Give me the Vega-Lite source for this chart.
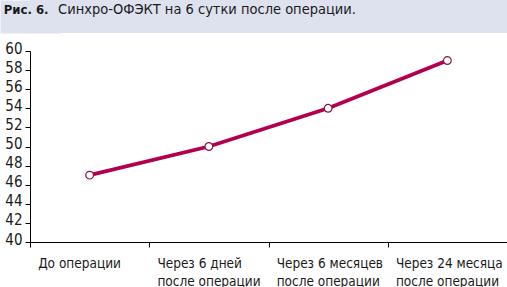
{
  "$schema": "https://vega.github.io/schema/vega-lite/v6.json",
  "padding": 0,
  "background": "white",
  "spacing": 8,
  "config": {
    "view": {"stroke": null},
    "font": "Liberation Sans Narrow, DejaVu Sans Condensed, sans-serif"
  },
  "datasets": {
    "series": [
      {"stage": "До операции", "value": 47},
      {"stage": "Через 6 дней|после операции", "value": 50},
      {"stage": "Через 6 месяцев|после  операции", "value": 54},
      {"stage": "Через 24 месяца|после операции", "value": 59}
    ]
  },
  "vconcat": [
    {
      "spacing": 0,
      "bounds": "flush",
      "hconcat": [
        {
          "width": 354,
          "height": 33,
          "view": {"fill": "#dde2ee", "stroke": null},
          "data": {"values": [{"fig": "Рис. 6.", "caption": "Синхро-ОФЭКТ на 6 сутки после операции."}]},
          "mark": {"type": "text", "baseline": "bottom", "fontSize": 14.5, "color": "#1a1a1a", "font": "Liberation Sans Narrow, DejaVu Sans Condensed, sans-serif"},
          "encoding": {
            "text": {"field": "caption"},
            "y": {
              "field": "fig",
              "type": "nominal",
              "axis": {
                "title": "Рис. 6.",
                "titleAngle": 0,
                "titleX": 18,
                "titleY": 16.5,
                "titleAlign": "right",
                "titleBaseline": "bottom",
                "titleFontWeight": "bold",
                "titleFontSize": 13,
                "titleColor": "#1a1a1a",
                "titleFont": "Liberation Sans Narrow, DejaVu Sans Condensed, sans-serif",
                "labels": false,
                "ticks": false,
                "domain": true,
                "domainWidth": 60,
                "domainColor": "#dde2ee",
                "domainCap": "butt",
                "minExtent": 30,
                "maxExtent": 30
              }
            }
          }
        },
        {
          "width": 123,
          "height": 33,
          "view": {"fill": "#dde2ee", "stroke": null},
          "data": {"values": [{"t": ""}]},
          "mark": {"type": "text"},
          "encoding": {"text": {"field": "t"}}
        }
      ]
    },
    {
      "width": 477,
      "height": 191,
      "data": {"name": "series"},
      "encoding": {
        "x": {
          "field": "stage",
          "type": "nominal",
          "sort": null,
          "scale": {"type": "band", "paddingInner": 0, "paddingOuter": 0},
          "axis": {
            "title": null,
            "labelAngle": 0,
            "tickBand": "extent",
            "labelAlign": "left",
            "labelOffset": -52,
            "labelBaseline": "top",
            "labelPadding": 9,
            "labelFontSize": 13.5,
            "labelLineHeight": 18,
            "labelColor": "#1a1a1a",
            "labelExpr": "split(datum.label, '|')",
            "tickSize": 5,
            "tickColor": "black",
            "domainColor": "black",
            "labelFont": "Liberation Sans Narrow, DejaVu Sans Condensed, sans-serif"
          }
        },
        "y": {
          "field": "value",
          "type": "quantitative",
          "scale": {"domain": [40, 60], "nice": false, "zero": false},
          "axis": {
            "title": null,
            "values": [40, 42, 44, 46, 48, 50, 52, 54, 56, 58, 60],
            "grid": false,
            "tickSize": 5,
            "labelPadding": 3,
            "labelOffset": -3,
            "labelFontSize": 15,
            "labelColor": "#1a1a1a",
            "tickColor": "black",
            "domainColor": "black",
            "minExtent": 30,
            "maxExtent": 30,
            "labelFont": "Liberation Sans Narrow, DejaVu Sans Condensed, sans-serif"
          }
        }
      },
      "layer": [
        {"mark": {"type": "line", "color": "#b3004e", "strokeWidth": 3.8}},
        {"mark": {"type": "point", "filled": true, "fill": "white", "stroke": "#8c1444", "strokeWidth": 1.2, "size": 60, "opacity": 1}}
      ]
    }
  ]
}
